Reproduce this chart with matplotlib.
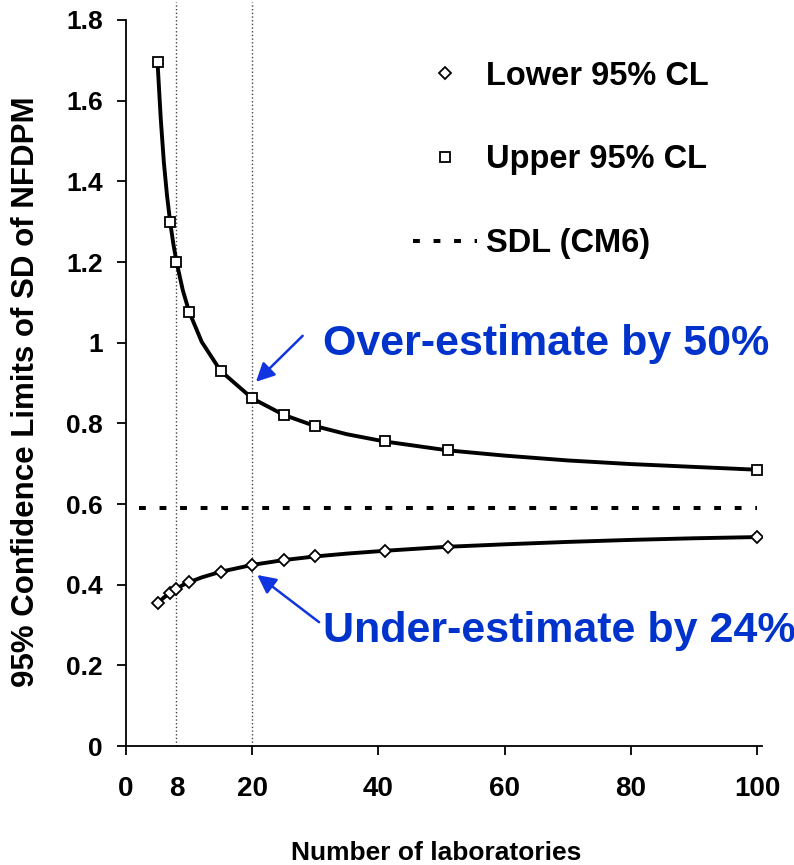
import matplotlib
matplotlib.use('Agg')
import matplotlib.pyplot as plt
from matplotlib.lines import Line2D
from matplotlib.ticker import FuncFormatter

plt.rcParams['font.family'] = ['Liberation Sans', 'DejaVu Sans']
plt.rcParams['font.weight'] = 'bold'

# marker positions (number of laboratories)
n_labs = [5, 7, 8, 10, 15, 20, 25, 30, 41, 51, 100]
lower_cl = [0.354, 0.380, 0.390, 0.406, 0.432, 0.449, 0.461, 0.470, 0.484, 0.494, 0.518]
upper_cl = [1.695, 1.299, 1.201, 1.077, 0.930, 0.862, 0.821, 0.793, 0.755, 0.733, 0.685]

# points along the drawn curves
curve_n = [5, 5.5, 6, 6.5, 7, 7.5, 8, 9, 10, 12, 15, 20, 25, 30, 35, 41, 51, 60, 70, 80, 90, 100]
lower_curve = [0.354, 0.361, 0.368, 0.374, 0.380, 0.385, 0.390, 0.399, 0.406, 0.418, 0.432,
               0.449, 0.461, 0.470, 0.477, 0.484, 0.494, 0.500, 0.506, 0.511, 0.515, 0.518]
upper_curve = [1.695, 1.557, 1.447, 1.365, 1.299, 1.245, 1.201, 1.130, 1.077, 1.002, 0.930,
               0.862, 0.821, 0.793, 0.773, 0.755, 0.733, 0.720, 0.708, 0.699, 0.692, 0.685]

sdl_value = 0.59
sdl_range = [2, 100]
marked_n = [8, 20]

blue_text = '#0033cc'
blue_arrow = '#1035e0'

fig = plt.figure(figsize=(7.94, 8.65), dpi=100)
ax = fig.add_axes([126 / 794, 119 / 865, 636 / 794, 726 / 865])

# curves
ax.plot(curve_n, upper_curve, color='black', lw=2.8, zorder=3)
ax.plot(curve_n, lower_curve, color='black', lw=2.8, zorder=3)
ax.plot(n_labs, upper_cl, ls='none', marker='s', ms=7.5, mfc='white', mec='black',
        mew=1.3, zorder=4)
ax.plot(n_labs, lower_cl, ls='none', marker='D', ms=6.5, mfc='white', mec='black',
        mew=1.3, zorder=4)

# SDL line
ax.plot(sdl_range, [sdl_value, sdl_value], color='black', lw=2.9, dashes=(1.7, 3.4))

# vertical dotted markers at 8 and 20 labs
for n in marked_n:
    ax.axvline(n, ymin=0, ymax=1.025, color='#444444', lw=1, ls=':', clip_on=False, zorder=1)

ax.set_xlim(0, 100.8)
ax.set_ylim(0, 1.8)

ax.set_xticks([0, 20, 40, 60, 80, 100])
ax.set_xticks([8], minor=True)
ax.set_xticklabels(['8'], minor=True)
ax.set_yticks([0, 0.2, 0.4, 0.6, 0.8, 1.0, 1.2, 1.4, 1.6, 1.8])
ax.yaxis.set_major_formatter(FuncFormatter(lambda v, p: '%g' % round(v, 1)))

ax.tick_params(axis='x', which='major', direction='out', length=6.5, width=1.3,
               labelsize=20, pad=15)
ax.tick_params(axis='x', which='minor', length=0, labelsize=20, pad=21.5)
ax.tick_params(axis='y', direction='out', length=6.5, width=1.3, labelsize=19, pad=10)

for side in ['top', 'right']:
    ax.spines[side].set_visible(False)
for side in ['left', 'bottom']:
    ax.spines[side].set_linewidth(1.3)

ax.set_xlabel('Number of laboratories', fontsize=19, fontweight='bold')
ax.xaxis.set_label_coords(0.487, -0.131)
ax.set_ylabel('95% Confidence Limits of SD of NFDPM', fontsize=22.5, fontweight='bold')
ax.yaxis.set_label_coords(-0.134, 0.488)

# legend
handles = [
    Line2D([], [], ls='none', marker='D', ms=6.5, mfc='white', mec='black', mew=1.3),
    Line2D([], [], ls='none', marker='s', ms=7.5, mfc='white', mec='black', mew=1.3),
    Line2D([], [], color='black', lw=2.9, dashes=(1.7, 3.4)),
]
labels = ['Lower 95% CL', 'Upper 95% CL', 'SDL (CM6)']
ax.legend(handles, labels, loc='upper left', bbox_to_anchor=(413 / 794, 0.930),
          bbox_transform=fig.transFigure, frameon=False, fontsize=23.5, borderpad=0,
          borderaxespad=0, handlelength=1.95, handletextpad=0.28, labelspacing=1.62,
          numpoints=1)

# annotations
ax.annotate('', xy=(20.6, 0.903), xytext=(28.0, 1.017),
            arrowprops=dict(arrowstyle='-|>', color=blue_arrow, lw=1.8, mutation_scale=28,
                            shrinkA=0, shrinkB=0))
ax.annotate('', xy=(20.8, 0.424), xytext=(30.6, 0.307),
            arrowprops=dict(arrowstyle='-|>', color=blue_arrow, lw=1.8, mutation_scale=28,
                            shrinkA=0, shrinkB=0))
ax.text(31.2, 0.970, 'Over-estimate by 50%', fontsize=31, fontweight='bold',
        color=blue_text, ha='left', va='baseline')
ax.text(31.2, 0.258, 'Under-estimate by 24%', fontsize=31, fontweight='bold',
        color=blue_text, ha='left', va='baseline', clip_on=False)

fig.savefig('out.png', dpi=100)
